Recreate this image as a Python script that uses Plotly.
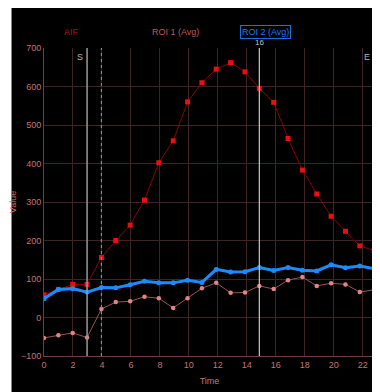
import plotly.graph_objects as go

# ---- data ----
dt = 0.991
idx = list(range(24))
time = [i * dt for i in idx]
aif = [59, 73, 86, 86, 156, 200, 240, 305, 402, 459, 560, 610, 645, 662, 638, 595,
       559, 465, 383, 321, 263, 224, 186, 174]
roi1 = [-53, -46, -40, -52, 22, 40, 42, 54, 50, 25, 50, 76, 90, 64, 65, 82,
        74, 97, 105, 82, 89, 86, 66, 72]
roi2 = [49, 73, 75, 66, 78, 77, 85, 94, 90, 90, 97, 91, 125, 118, 119, 130,
        122, 130, 123, 121, 137, 129, 134, 127]
x_ticks = [0, 2, 4, 6, 8, 10, 12, 14, 16, 18, 20, 22]
y_ticks = [-100, 0, 100, 200, 300, 400, 500, 600, 700]
start_idx, dotted_idx, marker_idx = 3, 4, 15
end_time = 22.8

FONT = "Liberation Sans"
TXT = "#c87272"
GRID = "#3e2424"

# page offset (body margin) is 8px; layout in figure pixels
OFF = 8
W, H = 380, 392
L = 43.5 - OFF
T = 48 - OFF
R = W - (374.7 - OFF)
B = H - (355.7 - OFF)
pw, ph = W - L - R, H - T - B


def px_x(p):
    return (p - OFF - L) / pw


def px_y(p):
    return (H - B - (p - OFF)) / ph


fig = go.Figure()
fig.add_trace(go.Scatter(x=time, y=roi1, mode="lines+markers", name="ROI 1 (Avg)",
                         line=dict(color="#9a5252", width=1),
                         marker=dict(color="#e08585", size=4.5)))
fig.add_trace(go.Scatter(x=time, y=aif, mode="lines+markers", name="AIF",
                         line=dict(color="#8c0000", width=1),
                         marker=dict(color="#e81010", size=5, symbol="square")))
fig.add_trace(go.Scatter(x=time, y=roi2, mode="lines+markers", name="ROI 2 (Avg)",
                         line=dict(color="#1a8cff", width=3),
                         marker=dict(color="#1a8cff", size=5)))

shapes = [
    dict(type="rect", xref="paper", yref="paper", x0=px_x(0), x1=px_x(11),
         y0=px_y(500), y1=px_y(0), fillcolor="#ffffff", line_width=0, layer="below"),
    dict(type="line", xref="x", yref="paper", x0=time[start_idx], x1=time[start_idx],
         y0=0, y1=1, line=dict(color="#9a9a9a", width=1.5)),
    dict(type="line", xref="x", yref="paper", x0=time[dotted_idx], x1=time[dotted_idx],
         y0=0, y1=1, line=dict(color="#8a8a8a", width=1.2, dash="dot")),
    dict(type="line", xref="x", yref="paper", x0=time[marker_idx], x1=time[marker_idx],
         y0=0, y1=1, line=dict(color="#c8c8c8", width=1.2)),
    dict(type="line", xref="x", yref="paper", x0=end_time, x1=end_time,
         y0=0, y1=1, line=dict(color="#8a8a8a", width=1.5)),
]

annotations = [
    dict(text="S", x=time[start_idx], y=1, xref="x", yref="paper", xanchor="right",
         yanchor="top", xshift=-2, yshift=-2, showarrow=False,
         font=dict(family=FONT, size=9, color="#b0b0b0")),
    dict(text="E", x=end_time, y=1, xref="x", yref="paper", xanchor="right",
         yanchor="top", xshift=-2, yshift=-2, showarrow=False,
         font=dict(family=FONT, size=9, color="#b0b0b0")),
    dict(text=str(marker_idx + 1), x=time[marker_idx], y=1, xref="x", yref="paper",
         xanchor="center", yanchor="bottom", yshift=-1, showarrow=False,
         font=dict(family=FONT, size=8, color="#c0c0c0")),
    dict(text="AIF", x=px_x(71), y=px_y(32), xref="paper", yref="paper", showarrow=False,
         xanchor="center", yanchor="middle",
         font=dict(family=FONT, size=9, color="#b01010")),
    dict(text="ROI 1 (Avg)", x=px_x(175), y=px_y(32), xref="paper", yref="paper",
         showarrow=False, xanchor="center", yanchor="middle",
         font=dict(family=FONT, size=9, color="#b85a5a")),
    dict(text="ROI 2 (Avg)", x=px_x(265.5), y=px_y(32), xref="paper", yref="paper",
         showarrow=False, xanchor="center", yanchor="middle",
         bordercolor="#1a6fd8", borderwidth=1, borderpad=1,
         font=dict(family=FONT, size=9, color="#1a78f0")),
]

fig.update_layout(
    width=W, height=H,
    margin=dict(l=L, r=R, t=T, b=B, autoexpand=False),
    paper_bgcolor="#000000", plot_bgcolor="#000000",
    showlegend=False,
    shapes=shapes, annotations=annotations,
    font=dict(family=FONT, size=9, color=TXT),
    xaxis=dict(range=[0, 22.85], tickvals=x_ticks, showgrid=True, gridcolor=GRID,
               gridwidth=1, zeroline=False, showline=True, linecolor="#6a4040",
               ticks="", automargin=False, tickfont=dict(family=FONT, size=9, color=TXT),
               title=dict(text="Time", font=dict(family=FONT, size=9, color=TXT), standoff=8)),
    yaxis=dict(range=[-100, 700], tickvals=y_ticks, showgrid=True, gridcolor=GRID,
               gridwidth=1, zeroline=False, showline=True, linecolor="#6a4040",
               ticks="", automargin=False, tickfont=dict(family=FONT, size=9, color=TXT),
               title=dict(text="Value", font=dict(family=FONT, size=9, color=TXT), standoff=3)),
)

fig.write_html("out.html")
